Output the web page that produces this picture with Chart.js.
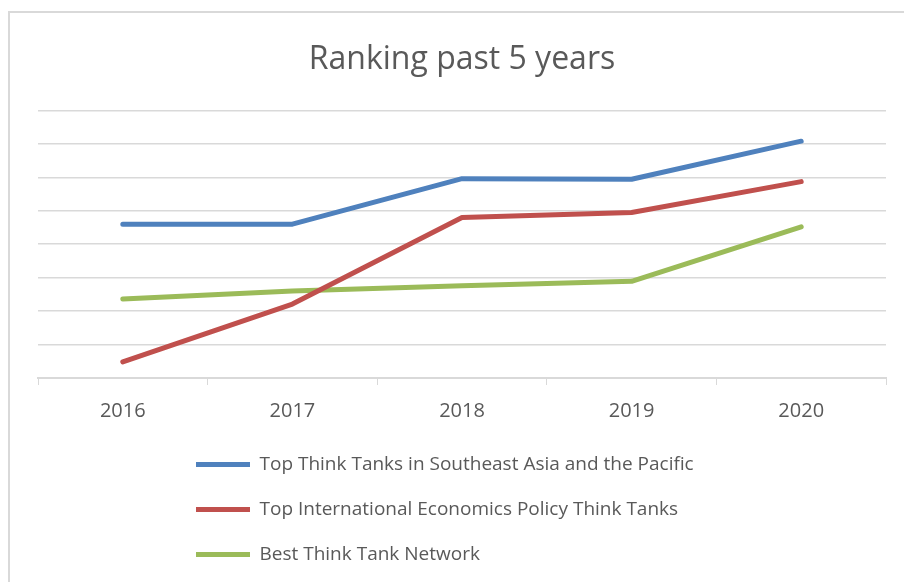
<!DOCTYPE html>
<html>
<head>
<meta charset="utf-8">
<script src="https://cdn.jsdelivr.net/npm/chart.js@4"></script>
<style>
    html, body { margin: 0; padding: 0; background: #fff; overflow: hidden; }
    #wrap { position: relative; width: 904px; height: 582px; }
    #frame { position: absolute; left: 8px; top: 11px; width: 1000px; height: 1000px; border: 2px solid #d9d9d9; }
    #chart { position: absolute; left: 0; top: 0; }
</style>
</head>
<body>
<div id="wrap">
    <div id="frame"></div>
    <canvas id="chart" width="904" height="582"></canvas>
</div>
<script>
const years = ['2016', '2017', '2018', '2019', '2020'];
const seaPacific = [4.6, 4.6, 5.96, 5.94, 7.08];
const econPolicy = [0.48, 2.21, 4.8, 4.95, 5.87];
const network = [2.36, 2.6, 2.76, 2.89, 4.52];

Chart.defaults.font.family = "'Open Sans', sans-serif";
Chart.defaults.color = '#595959';

// one legend item per row, rows starting under the plot
const legendShift = {
    id: 'legendShift',
    beforeLayout(chart) {
        let l = chart.legend
        if (l && !l._narrowed) {
            const orig = l.update
            l.update = function (w, h, m) {
                orig.call(this, Math.min(w, 560), h, m)
            }
            l._narrowed = true
        }
    },
    afterLayout(chart) {
        let l = chart.legend
        l.left = 170
        l.right = 730
        l.width = 560
        l.top -= 8
        l.bottom -= 8
    }
};

function lineSeries(label, values, color) {
    return {
        label: label,
        data: values,
        borderColor: color,
        backgroundColor: color,
        borderWidth: 5,
        borderCapStyle: 'round',
        borderJoinStyle: 'round',
        pointRadius: 0,
        tension: 0
    }
}

const data = {
    labels: years,
    datasets: [
        lineSeries('Top Think Tanks in Southeast Asia and the Pacific', seaPacific, '#4F81BD'),
        lineSeries('Top International Economics Policy Think Tanks', econPolicy, '#C0504D'),
        lineSeries('Best Think Tank Network', network, '#9BBB59')
    ]
};

const config = {
    type: 'line',
    data: data,
    options: {
        responsive: false,
        animation: false,
        layout: {
            padding: { top: 10, left: 38, right: 18, bottom: 0 }
        },
        plugins: {
            title: {
                display: true,
                text: 'Ranking past 5 years',
                color: '#595959',
                font: { size: 32, weight: 'normal' },
                padding: { top: 31, bottom: 31 }
            },
            legend: {
                position: 'bottom',
                align: 'start',
                labels: {
                    usePointStyle: true,
                    pointStyle: 'line',
                    pointStyleWidth: 54,
                    padding: 26,
                    color: '#595959',
                    font: { size: 19 }
                }
            },
            tooltip: { enabled: false }
        },
        scales: {
            x: {
                offset: true,
                grid: {
                    offset: true,
                    drawOnChartArea: false,
                    tickLength: 7,
                    color: '#d9d9d9'
                },
                border: { color: '#d9d9d9', width: 2 },
                ticks: { padding: 14, color: '#595959', font: { size: 20 } }
            },
            y: {
                min: 0,
                max: 8,
                ticks: { display: false, stepSize: 1 },
                grid: { color: '#d9d9d9', lineWidth: 1.5, drawTicks: false },
                border: { display: false }
            }
        }
    },
    plugins: [legendShift]
};

let ctx = document.getElementById('chart').getContext('2d')
new Chart(ctx, config)
</script>
</body>
</html>
